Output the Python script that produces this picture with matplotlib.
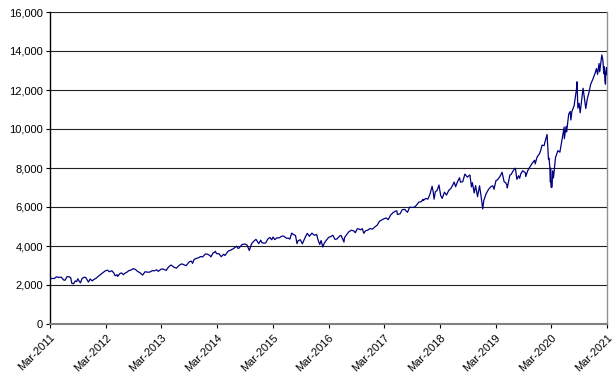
import matplotlib
matplotlib.use("Agg")
import matplotlib.pyplot as plt
import matplotlib.ticker as mticker
import pandas as pd

dates = [
    "2011-03-18","2011-03-31","2011-04-15","2011-04-29","2011-05-13","2011-05-31","2011-06-15","2011-06-24",
    "2011-07-08","2011-07-22","2011-08-01","2011-08-08","2011-08-19","2011-08-31","2011-09-09","2011-09-16",
    "2011-09-30","2011-10-04","2011-10-14","2011-10-27","2011-11-08","2011-11-25","2011-12-07","2011-12-19","2011-12-30",
    "2012-01-13","2012-01-31","2012-02-15","2012-02-29","2012-03-15","2012-03-30","2012-04-10","2012-04-27",
    "2012-05-11","2012-05-18","2012-05-31","2012-06-04","2012-06-19","2012-06-29","2012-07-12","2012-07-20",
    "2012-07-31","2012-08-17","2012-08-31","2012-09-14","2012-09-28","2012-10-12","2012-10-26","2012-11-15",
    "2012-11-30","2012-12-14","2012-12-31",
    "2013-01-15","2013-01-31","2013-02-15","2013-02-25","2013-03-15","2013-03-28","2013-04-18","2013-04-30",
    "2013-05-15","2013-05-22","2013-06-06","2013-06-24","2013-07-08","2013-07-22","2013-07-31","2013-08-15",
    "2013-08-27","2013-09-10","2013-09-18","2013-09-30","2013-10-08","2013-10-18","2013-10-31","2013-11-15",
    "2013-11-29","2013-12-13","2013-12-31",
    "2014-01-15","2014-01-31","2014-02-05","2014-02-20","2014-02-28","2014-03-06","2014-03-14","2014-03-31",
    "2014-04-14","2014-04-30","2014-05-08","2014-05-30","2014-06-13","2014-06-30","2014-07-24","2014-07-31",
    "2014-08-07","2014-08-29","2014-09-19","2014-09-30","2014-10-15","2014-10-31","2014-11-14","2014-11-28",
    "2014-12-16","2014-12-29",
    "2015-01-05","2015-01-15","2015-01-30","2015-02-13","2015-02-27","2015-03-11","2015-03-20","2015-03-31",
    "2015-04-15","2015-04-30","2015-05-15","2015-05-29","2015-06-15","2015-06-30","2015-07-08","2015-07-20",
    "2015-07-31","2015-08-14","2015-08-24","2015-08-31","2015-09-15","2015-09-28","2015-10-15","2015-10-30",
    "2015-11-13","2015-11-30","2015-12-15","2015-12-31",
    "2016-01-08","2016-01-20","2016-01-29","2016-02-09","2016-02-19","2016-03-01","2016-03-18","2016-03-31",
    "2016-04-15","2016-04-29","2016-05-12","2016-05-31","2016-06-08","2016-06-27","2016-06-30","2016-07-15",
    "2016-07-29","2016-08-15","2016-08-31","2016-09-09","2016-09-22","2016-09-30","2016-10-14","2016-10-25",
    "2016-11-04","2016-11-15","2016-11-30","2016-12-15","2016-12-30",
    "2017-01-13","2017-01-31","2017-02-15","2017-02-28","2017-03-15","2017-03-31","2017-04-13","2017-04-28",
    "2017-05-15","2017-05-31","2017-06-09","2017-06-12","2017-06-30","2017-07-14","2017-07-31","2017-08-10",
    "2017-08-18","2017-08-31","2017-09-15","2017-09-29","2017-10-13","2017-10-31","2017-11-15","2017-11-28",
    "2017-11-30","2017-12-15","2017-12-29",
    "2018-01-12","2018-01-26","2018-02-02","2018-02-08","2018-02-16","2018-02-28","2018-03-12","2018-03-23",
    "2018-04-02","2018-04-17","2018-04-30","2018-05-15","2018-05-31","2018-06-20","2018-06-29","2018-07-13",
    "2018-07-25","2018-07-31","2018-08-15","2018-08-29","2018-09-14","2018-09-28","2018-10-01","2018-10-11",
    "2018-10-17","2018-10-29","2018-11-07","2018-11-20","2018-11-30","2018-12-03","2018-12-14","2018-12-24",
    "2018-12-31",
    "2019-01-15","2019-01-31","2019-02-15","2019-02-28","2019-03-08","2019-03-21","2019-03-29","2019-04-15",
    "2019-04-30","2019-05-13","2019-05-23","2019-05-31","2019-06-03","2019-06-20","2019-06-28","2019-07-15",
    "2019-07-26","2019-08-05","2019-08-16","2019-08-23","2019-08-30","2019-09-12","2019-09-30","2019-10-02",
    "2019-10-15","2019-10-31","2019-11-15","2019-11-29","2019-12-03","2019-12-16","2019-12-31",
    "2020-01-10","2020-01-17","2020-01-31","2020-02-03","2020-02-19","2020-02-28","2020-03-03","2020-03-09",
    "2020-03-12","2020-03-13","2020-03-16","2020-03-20","2020-03-23","2020-03-26","2020-04-01","2020-04-14",
    "2020-04-30","2020-05-13","2020-05-29","2020-06-10","2020-06-11","2020-06-23","2020-06-26","2020-07-10",
    "2020-07-20","2020-07-24","2020-07-31","2020-08-14","2020-08-31","2020-09-02","2020-09-08","2020-09-16",
    "2020-09-23","2020-10-12","2020-10-30","2020-11-09","2020-11-20","2020-11-30","2020-12-15","2020-12-31",
    "2021-01-08","2021-01-15","2021-01-25","2021-01-29","2021-02-12","2021-02-19","2021-02-25","2021-03-01",
    "2021-03-04","2021-03-08","2021-03-10","2021-03-15","2021-03-18",
]

values = [
    2300,2340,2330,2420,2390,2400,2260,2240,
    2430,2420,2370,2090,2060,2210,2170,2320,
    2140,2110,2330,2400,2380,2150,2310,2210,2280,
    2340,2460,2550,2630,2730,2760,2680,2730,
    2600,2470,2530,2440,2590,2620,2530,2600,
    2640,2740,2770,2840,2800,2700,2640,2510,
    2680,2660,2660,
    2730,2730,2780,2700,2810,2820,2750,2890,
    3000,3020,2920,2860,2980,3060,3080,3030,
    2990,3130,3200,3220,3110,3310,3360,3390,
    3460,3440,3590,
    3580,3500,3440,3650,3670,3730,3610,3600,
    3450,3580,3510,3740,3780,3850,3990,3890,
    3880,4080,4100,4050,3770,4130,4250,4340,
    4120,4300,
    4180,4150,4150,4350,4440,4320,4460,4330,
    4420,4420,4500,4510,4400,4400,4350,4660,
    4590,4540,4120,4270,4320,4110,4420,4650,
    4500,4660,4550,4590,
    4330,4080,4280,3950,4150,4270,4440,4480,
    4550,4340,4360,4520,4540,4200,4420,4590,
    4730,4810,4770,4680,4880,4880,4830,4890,
    4650,4780,4810,4900,4860,
    4960,5070,5270,5330,5390,5440,5350,5580,
    5710,5790,5800,5620,5650,5860,5880,5780,
    5730,5990,5980,5980,6070,6250,6270,6390,
    6340,6440,6400,
    6660,7060,6780,6400,6780,6850,7130,6600,
    6440,6760,6610,6850,6970,7280,7040,7320,
    7500,7270,7300,7690,7530,7630,7640,7030,
    7250,6720,7100,6530,6950,7090,6500,5900,
    6330,
    6680,6900,7040,7090,6910,7360,7380,7550,
    7780,7300,7250,7130,6980,7640,7670,7900,
    7990,7420,7600,7470,7690,7860,7750,7560,
    7860,8080,8260,8400,8210,8570,8730,
    8950,9170,9150,9270,9720,8460,8500,7950,
    7280,7990,7020,7000,7030,7850,7490,8530,
    8890,8810,9560,10100,9500,10130,9850,10770,
    10900,10460,10910,11180,12110,12420,11070,11320,
    10830,12090,11050,11550,11880,12270,12550,12890,
    13100,12800,13360,12930,13800,13530,12830,13190,
    12500,12300,12860,13150,12790,
]

tick_dates = ["2011-03-18","2012-03-18","2013-03-18","2014-03-18","2015-03-18","2016-03-18",
              "2017-03-18","2018-03-18","2019-03-18","2020-03-18","2021-03-18"]
tick_labels = ["Mar-2011","Mar-2012","Mar-2013","Mar-2014","Mar-2015","Mar-2016",
               "Mar-2017","Mar-2018","Mar-2019","Mar-2020","Mar-2021"]
y_ticks = [0, 2000, 4000, 6000, 8000, 10000, 12000, 14000, 16000]

plt.rcParams['font.family'] = ['Liberation Sans', 'DejaVu Sans']

W, H = 616, 382
fig = plt.figure(figsize=(W/100, H/100), dpi=100)
ax = fig.add_axes([50/W, 1-324/H, (607-50)/W, (324-12)/H])

x = pd.to_datetime(dates)
ax.plot(x, values, color='#000080', lw=0.9, zorder=3)

ax.set_ylim(0, 16000)
ax.set_yticks(y_ticks)
ax.yaxis.set_major_formatter(mticker.FuncFormatter(lambda v, p: f"{int(v):,}"))
ax.set_xlim(pd.Timestamp(tick_dates[0]), pd.Timestamp(tick_dates[-1]))
ax.set_xticks(pd.to_datetime(tick_dates))
ax.set_xticklabels(tick_labels, rotation=45, ha='right', rotation_mode='anchor')

ax.grid(axis='y', color='#222222', lw=0.8)
ax.set_axisbelow(True)
ax.tick_params(axis='both', direction='out', length=3, width=0.8, labelsize=8, colors='black')
ax.tick_params(axis='x', pad=3)
ax.tick_params(axis='y', pad=2)

ax.spines['left'].set_color('black')
ax.spines['left'].set_linewidth(1.0)
ax.spines['bottom'].set_color('#808080')
ax.spines['bottom'].set_linewidth(1.5)
ax.spines['right'].set_color('#909090')
ax.spines['right'].set_linewidth(1.0)
ax.spines['top'].set_visible(False)

fig.savefig("out.png", dpi=100, facecolor='white')
